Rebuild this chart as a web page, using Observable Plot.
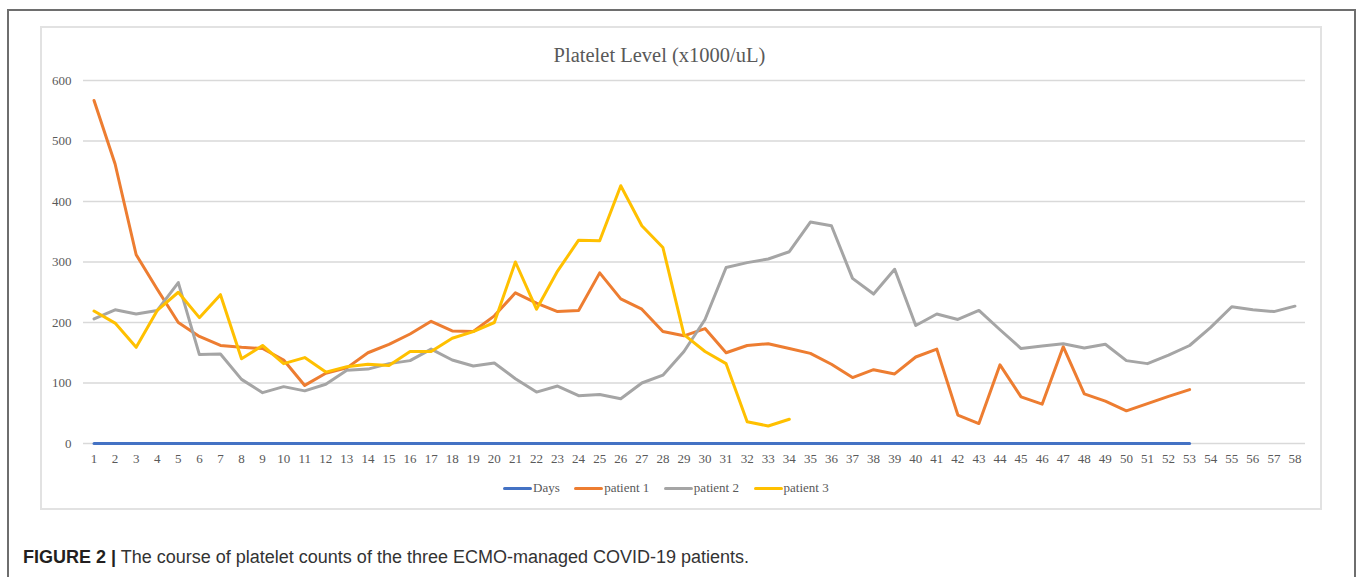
<!DOCTYPE html>
<html>
<head>
<meta charset="utf-8">
<script src="https://cdn.jsdelivr.net/npm/d3@7"></script>
<script src="https://cdn.jsdelivr.net/npm/@observablehq/plot@0.6"></script>
<style>
  html, body { margin: 0; padding: 0; background: #fff; }
  body { width: 1358px; height: 577px; position: relative; overflow: hidden; }
  #outer { position: absolute; left: 7px; top: 9px; width: 1349px; height: 620px; box-sizing: border-box; border: 2px solid #6e6e6e; }
  #inner { position: absolute; left: 40px; top: 26px; width: 1282px; height: 484px; box-sizing: border-box; border: 2px solid #e2e2e2; }
  #chart { position: absolute; left: 41px; top: 28px; }
  #title { position: absolute; left: 0; width: 1319px; top: 44px; line-height: 22px; text-align: center; font-family: "Liberation Serif", serif; font-size: 20.5px; color: #595959; }
  #legend { position: absolute; left: 503px; top: 480px; height: 16px; display: flex; align-items: center; font-family: "Liberation Serif", serif; font-size: 13px; color: #595959; }
  #legend .item { display: flex; align-items: center; margin-right: 14.5px; }
  #legend .sw { width: 29px; height: 3px; border-radius: 1.5px; margin-right: 1px; }
  #caption { position: absolute; left: 23px; top: 548px; line-height: 19px; font-family: "Liberation Sans", Arial, sans-serif; font-size: 18px; color: #333; white-space: nowrap; }
  #caption b { color: #231f20; }
</style>
</head>
<body>
<div id="outer"></div>
<div id="inner"></div>
<div id="chart"></div>
<div id="title"></div>
<div id="legend"></div>
<div id="caption"><b>FIGURE 2 |</b> The course of platelet counts of the three ECMO-managed COVID-19 patients.</div>
<script>
const titleText = "Platelet Level (x1000/uL)";
const dayTicks = [1,2,3,4,5,6,7,8,9,10,11,12,13,14,15,16,17,18,19,20,21,22,23,24,25,26,27,28,29,30,31,32,33,34,35,36,37,38,39,40,41,42,43,44,45,46,47,48,49,50,51,52,53,54,55,56,57,58];
const yTicks = [0,100,200,300,400,500,600];
const seriesNames = ["Days", "patient 1", "patient 2", "patient 3"];
const seriesColors = ["#4472C4", "#ED7D31", "#A5A5A5", "#FFC000"];
const daysValues = [0,0,0,0,0,0,0,0,0,0,0,0,0,0,0,0,0,0,0,0,0,0,0,0,0,0,0,0,0,0,0,0,0,0,0,0,0,0,0,0,0,0,0,0,0,0,0,0,0,0,0,0,0];
const patient1 = [567,462,312,255,200,177,162,159,157,138,96,116,125,150,164,181,202,186,185,211,249,232,218,220,282,239,222,185,178,190,150,162,165,157,149,131,109,122,115,143,156,47,33,130,77,65,160,82,70,54,66,78,89];
const patient2 = [206,221,214,220,266,147,148,106,84,94,87,98,121,123,132,137,156,138,128,133,107,85,95,79,81,74,100,113,152,205,291,299,305,317,366,360,273,247,288,195,214,205,220,188,157,161,165,158,164,137,132,146,162,192,226,221,218,227];
const patient3 = [219,199,159,220,250,208,246,140,162,132,142,118,127,131,129,152,152,174,185,200,300,222,285,336,335,426,360,324,180,152,132,36,29,40];

const allSeries = [daysValues, patient1, patient2, patient3];
const rows = [];
allSeries.forEach((vals, si) => {
  vals.forEach((v, i) => rows.push({series: seriesNames[si], day: dayTicks[i], value: v}));
});

document.getElementById("title").textContent = titleText;

const chart = Plot.plot({
  width: 1280,
  height: 445,
  marginLeft: 42,
  marginRight: 16,
  marginTop: 52,
  marginBottom: 30,
  style: { fontFamily: "'Liberation Serif', serif", fontSize: "13px", color: "#595959", background: "transparent", overflow: "visible" },
  x: { domain: [0.5, 58.5], ticks: dayTicks, tickSize: 0, tickPadding: 10, tickFormat: d => String(d), label: null },
  y: { domain: [0, 600], ticks: yTicks, tickSize: 0, tickPadding: 12, tickFormat: d => String(d), label: null },
  marks: [
    Plot.ruleY(yTicks, { stroke: "#d9d9d9", strokeWidth: 1.3 }),
    ...seriesNames.map((name, si) =>
      Plot.line(rows.filter(r => r.series === name), {
        x: "day", y: "value", stroke: seriesColors[si], strokeWidth: 3, strokeLinejoin: "round", strokeLinecap: "round"
      })
    )
  ]
});
document.getElementById("chart").appendChild(chart);

const legend = document.getElementById("legend");
seriesNames.forEach((name, si) => {
  const item = document.createElement("div");
  item.className = "item";
  const sw = document.createElement("span");
  sw.className = "sw";
  sw.style.background = seriesColors[si];
  const t = document.createElement("span");
  t.textContent = name;
  item.appendChild(sw);
  item.appendChild(t);
  legend.appendChild(item);
});
</script>
</body>
</html>
